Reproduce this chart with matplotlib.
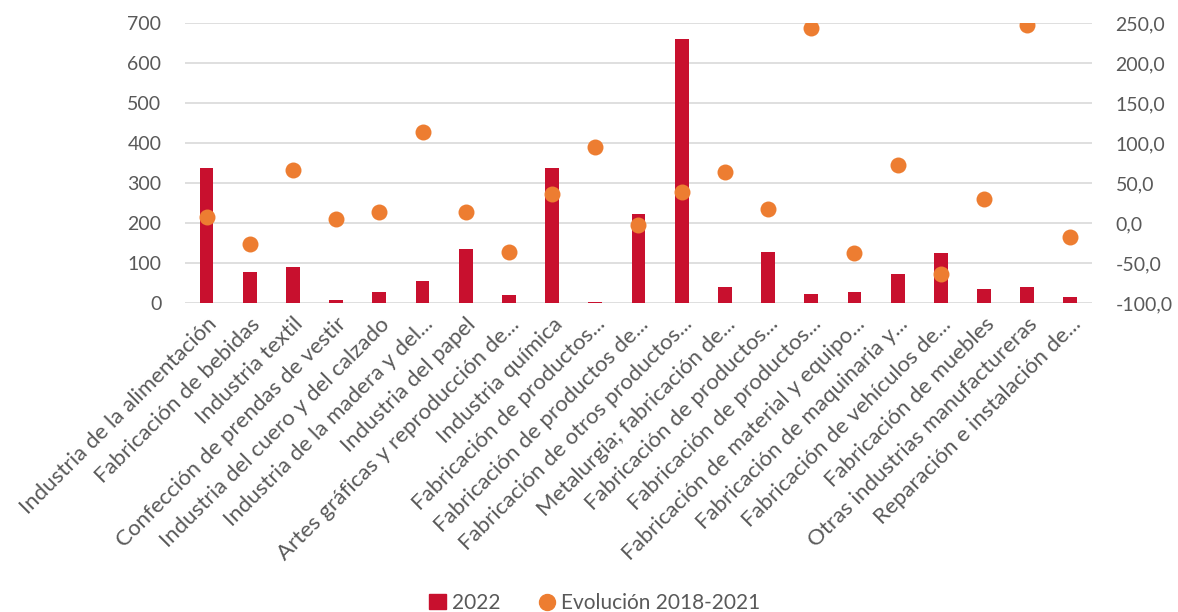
import matplotlib.pyplot as plt
import numpy as np
from matplotlib.lines import Line2D
from matplotlib.patches import Patch

plt.rcParams["font.family"] = ["Lato", "DejaVu Sans"]
plt.rcParams["axes.unicode_minus"] = False

categories = [
    "Industria de la alimentación",
    "Fabricación de bebidas",
    "Industria textil",
    "Confección de prendas de vestir",
    "Industria del cuero y del calzado",
    "Industria de la madera y del...",
    "Industria del papel",
    "Artes gráficas y reproducción de...",
    "Industria química",
    "Fabricación de productos...",
    "Fabricación de productos de...",
    "Fabricación de otros productos...",
    "Metalurgia; fabricación de...",
    "Fabricación de productos...",
    "Fabricación de productos...",
    "Fabricación de material y equipo...",
    "Fabricación de maquinaria y...",
    "Fabricación de vehículos de...",
    "Fabricación de muebles",
    "Otras industrias manufactureras",
    "Reparación e instalación de...",
]
values_2022 = [337, 78, 90, 7, 27, 54, 135, 20, 337, 2, 223, 660,
               41, 128, 23, 27, 73, 124, 35, 41, 14]
evolucion = [7.6, -26.6, 66.9, 5.5, 14.3, 114.4, 14.3, -36.6, 36.4, 95.2, -2.4, 38.5,
             64.4, 17.2, 243.7, -37.4, 72.7, -63.7, 29.7, 247.9, -17.4]

BAR = "#C8102E"
DOT = "#ED7D31"
TXT = "#595959"
GRID = "#D9D9D9"

fig = plt.figure(figsize=(11.78, 6.12), dpi=100)
ax = fig.add_axes([0.157, 0.505, 0.770, 0.457])
ax2 = ax.twinx()

x = np.arange(len(categories))
ax.bar(x, values_2022, width=0.32, color=BAR, zorder=2)
ax2.plot(x, evolucion, "o", color=DOT, markersize=11.5, markeredgewidth=0, zorder=3)

ax.set_xlim(-0.5, len(categories) - 0.5)
ax.set_ylim(0, 700)
ax.set_yticks(range(0, 701, 100))
ax2.set_ylim(-100, 250)
ax2.set_yticks(range(-100, 251, 50))
ax2.set_yticklabels([f"{v:.1f}".replace(".", ",") for v in range(-100, 251, 50)])

ax.yaxis.grid(True, color=GRID, linewidth=1.2, zorder=0)
ax.set_axisbelow(True)
for a in (ax, ax2):
    for s in a.spines.values():
        s.set_visible(False)
    a.tick_params(length=0, colors=TXT, labelsize=14)
ax.tick_params(axis="y", pad=17)
ax2.tick_params(axis="y", pad=17)

ax.set_xticks(x)
ax.set_xticklabels(categories, rotation=45, ha="right", rotation_mode="anchor", fontsize=16)
ax.tick_params(axis="x", pad=8)

handles = [
    Patch(color=BAR, label="2022"),
    Line2D([], [], marker="o", linestyle="", color=DOT, markersize=11.5, label="Evolución 2018-2021"),
]
leg = fig.legend(handles=handles, loc="center", bbox_to_anchor=(0.505, 0.015), ncol=2,
                 frameon=False, fontsize=15, handlelength=0.8, handletextpad=0.3,
                 columnspacing=1.8)
for t in leg.get_texts():
    t.set_color(TXT)

fig.savefig("out.png", dpi=100)
